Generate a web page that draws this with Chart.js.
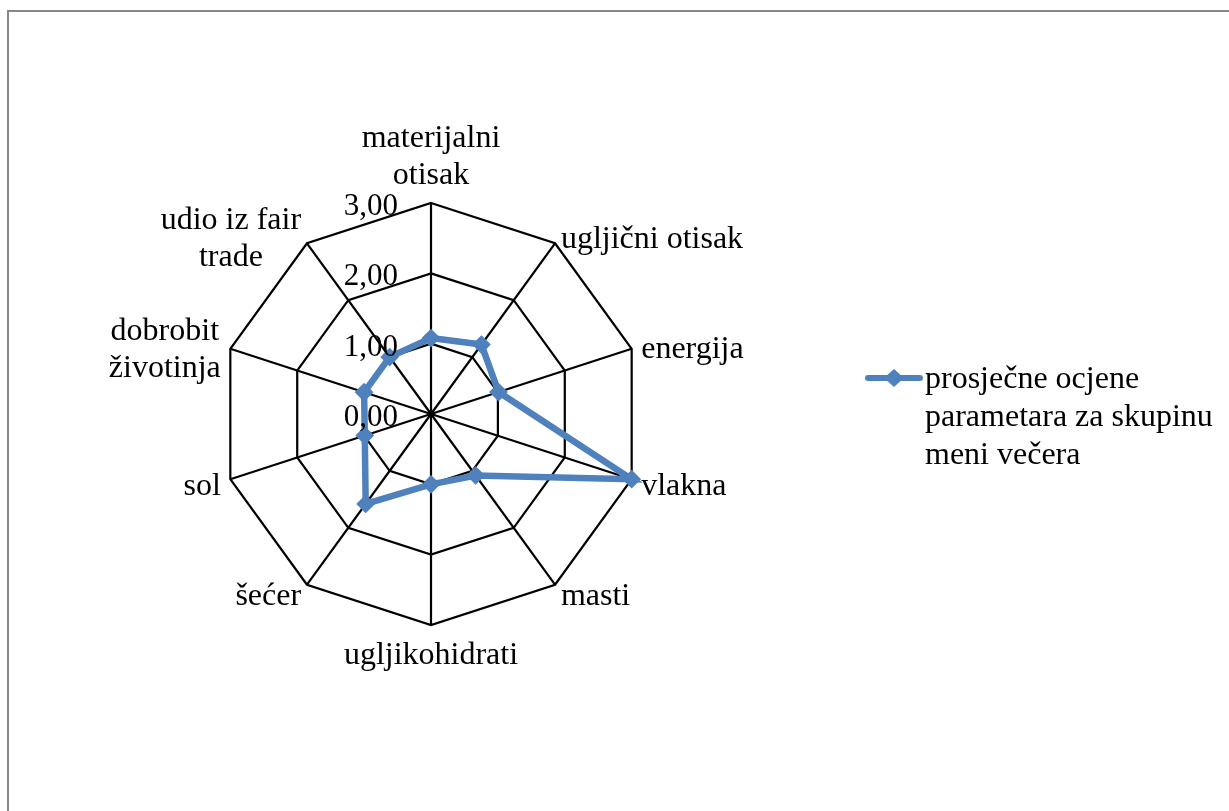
<!DOCTYPE html>
<html>
<head>
<meta charset="utf-8">
<script src="https://cdn.jsdelivr.net/npm/chart.js@4/dist/chart.umd.min.js"></script>
<style>
    html, body { margin: 0; padding: 0; background: #fff; overflow: hidden; }
    #okvir { position: absolute; left: 7px; top: 10px; width: 1240px; height: 820px; border: 2px solid #878787; }
    #radar { position: absolute; left: 0; top: 0; }
</style>
</head>
<body>
<div id="okvir"></div>
<canvas id="radar" width="1229" height="811"></canvas>
<script>
// RADAR - PROSJEČNE OCJENE PARAMETARA (MENI VEČERA)

const categories = [
    ["materijalni", "otisak"],
    ["ugljični otisak"],
    ["energija"],
    ["vlakna"],
    ["masti"],
    ["ugljikohidrati"],
    ["šećer"],
    ["sol"],
    ["dobrobit", "životinja"],
    ["udio iz fair", "trade"]
];
const ocjene = [1.08, 1.22, 1.01, 3.00, 1.08, 1.00, 1.58, 0.99, 1.00, 1.00];
const tickValues = [0, 1, 2, 3];
const tickLabels = ["0,00", "1,00", "2,00", "3,00"];
const legendLines = ["prosječne ocjene", "parametara za skupinu", "meni večera"];

const serif = '"Liberation Serif", "Times New Roman", serif';
const plava = "#4F81BD";

// oznake osi, vrijednosti i legenda crtaju se ručno (Excel raspored)
const oznake = {
    id: "oznake",
    afterDraw(chart) {
        const ctx = chart.ctx;
        const r = chart.scales.r;
        ctx.save();
        ctx.fillStyle = "#000";
        ctx.textBaseline = "middle";

        // vrijednosti skale
        ctx.font = "31px " + serif;
        ctx.textAlign = "right";
        tickValues.forEach((v, k) => {
            const d = r.getDistanceFromCenterForValue(v);
            ctx.fillText(tickLabels[k], r.xCenter - 33, r.yCenter - d + 4);
        });

        // nazivi parametara
        ctx.font = "32px " + serif;
        ctx.textAlign = "center";
        const lh = 37;
        categories.forEach((lines, i) => {
            const p = r.getPointPosition(i, r.drawingArea + 10);
            const a = i * 2 * Math.PI / categories.length;
            const s = Math.sin(a), c = Math.cos(a);
            const w = Math.max(...lines.map(t => ctx.measureText(t).width));
            let x = p.x, y0;
            if (Math.abs(s) < 0.01) {
                y0 = c > 0 ? p.y - 17 - (lines.length - 1) * lh : p.y + 21;
            } else {
                x = s > 0 ? p.x + w / 2 : p.x - w / 2;
                y0 = p.y + 4 - (lines.length - 1) * lh / 2;
            }
            lines.forEach((t, k) => ctx.fillText(t, x, y0 + k * lh));
        });

        // legenda
        const ds = chart.data.datasets[0];
        ctx.strokeStyle = ds.borderColor;
        ctx.lineWidth = 6;
        ctx.lineCap = "round";
        ctx.beginPath();
        ctx.moveTo(868, 378);
        ctx.lineTo(920, 378);
        ctx.stroke();
        ctx.fillStyle = ds.pointBackgroundColor;
        ctx.beginPath();
        ctx.moveTo(894, 369);
        ctx.lineTo(904, 378);
        ctx.lineTo(894, 387);
        ctx.lineTo(884, 378);
        ctx.closePath();
        ctx.fill();
        ctx.fillStyle = "#000";
        ctx.textAlign = "left";
        legendLines.forEach((t, k) => ctx.fillText(t, 925, 380 + k * 38));
        ctx.restore();
    }
};

const config = {
    type: "radar",
    data: {
        labels: categories,
        datasets: [{
            label: legendLines.join(" "),
            data: ocjene,
            fill: false,
            borderColor: plava,
            borderWidth: 6.5,
            backgroundColor: plava,
            pointStyle: "rectRot",
            pointRadius: 8,
            pointBorderWidth: 2,
            pointBackgroundColor: plava,
            pointBorderColor: plava,
            tension: 0,
            clip: false
        }]
    },
    options: {
        responsive: false,
        animation: false,
        layout: {
            padding: { left: 220, right: 587, top: 203, bottom: 186 }
        },
        plugins: {
            legend: { display: false },
            tooltip: { enabled: false }
        },
        scales: {
            r: {
                min: 0,
                max: 3,
                ticks: { display: false, stepSize: 1 },
                pointLabels: { display: false },
                grid: { color: "#000", lineWidth: 2.2 },
                angleLines: { color: "#000", lineWidth: 2.2 }
            }
        }
    },
    plugins: [oznake]
};

const ctx = document.getElementById("radar").getContext("2d");
new Chart(ctx, config);
</script>
</body>
</html>
